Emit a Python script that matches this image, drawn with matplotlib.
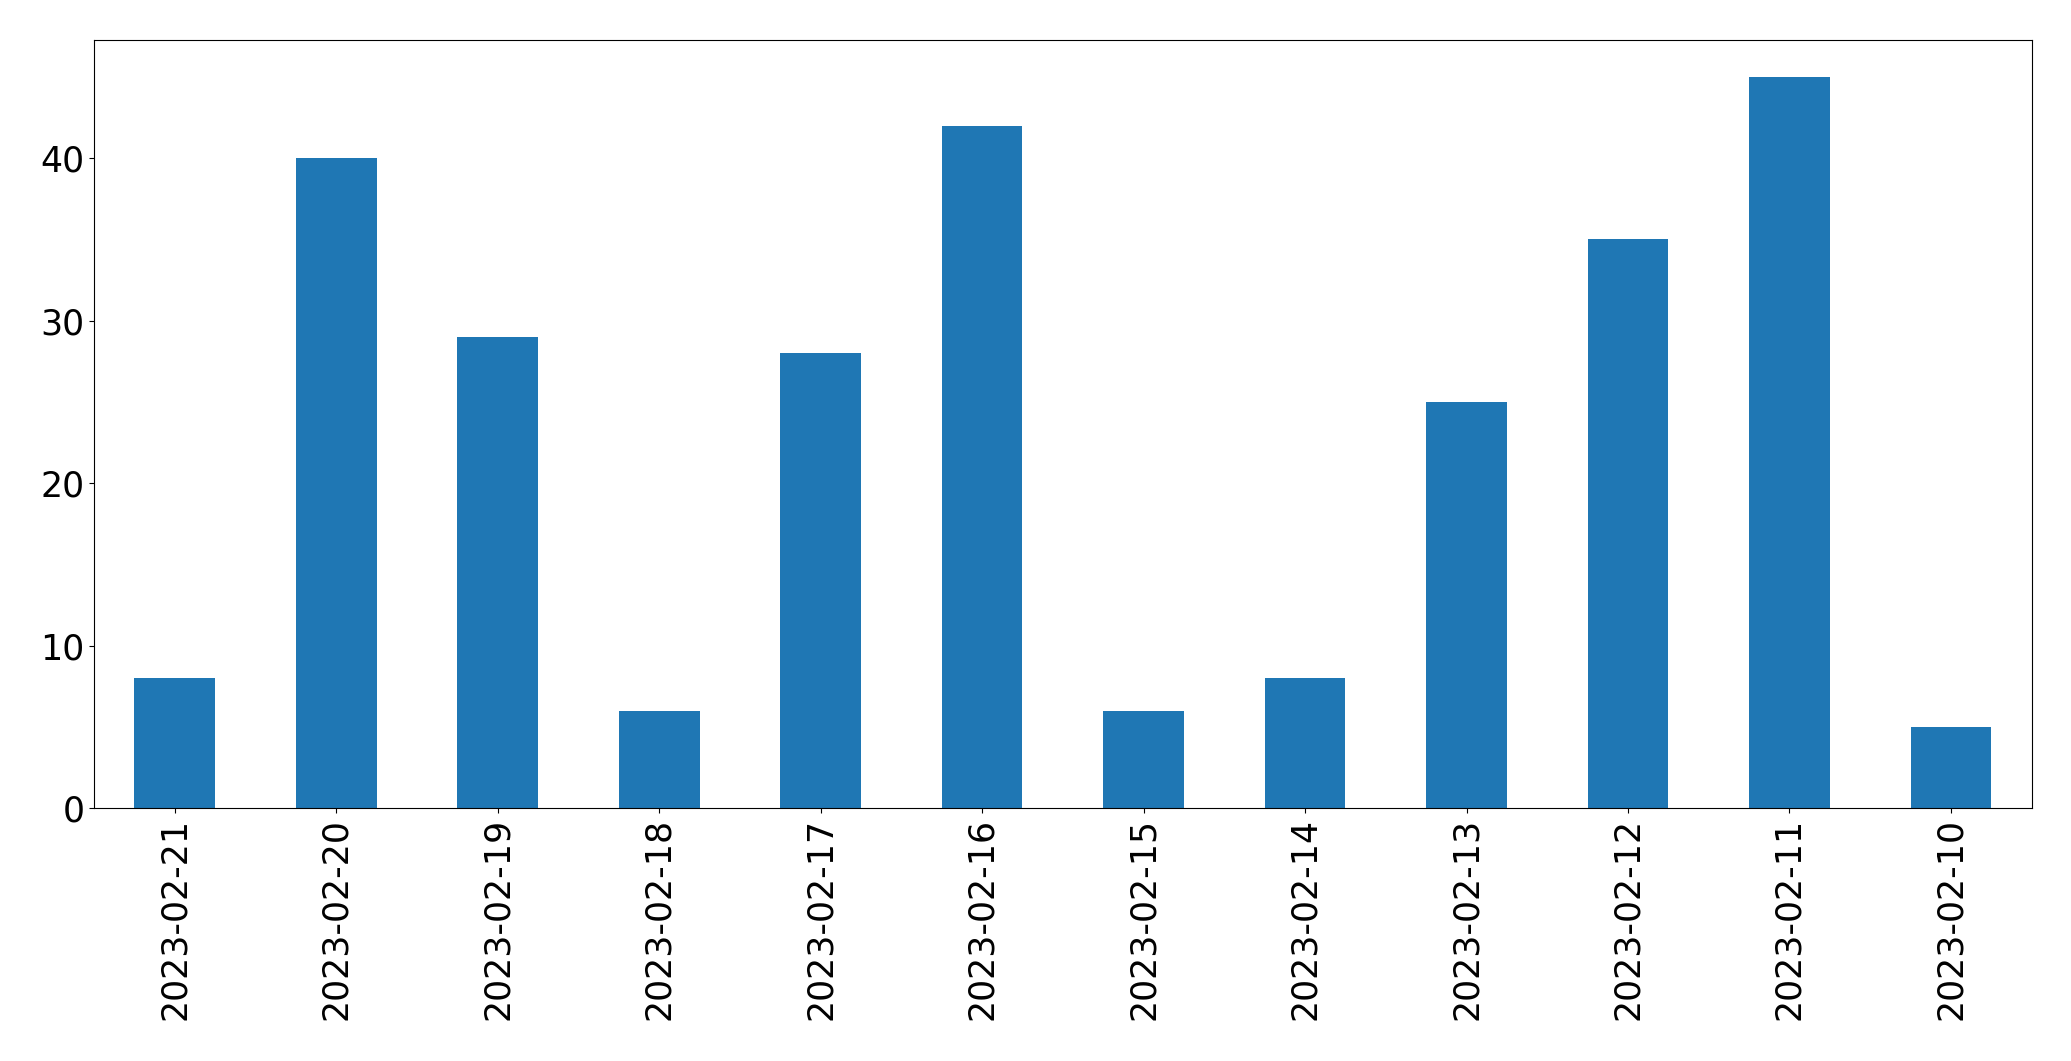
import pandas as pd
import matplotlib
matplotlib.use("Agg")
import matplotlib.pyplot as plt

dates = ["2023-02-21", "2023-02-20", "2023-02-19", "2023-02-18",
         "2023-02-17", "2023-02-16", "2023-02-15", "2023-02-14",
         "2023-02-13", "2023-02-12", "2023-02-11", "2023-02-10"]
counts = [8, 40, 29, 6, 28, 42, 6, 8, 25, 35, 45, 5]

series = pd.Series(counts, index=dates)

fig, ax = plt.subplots(figsize=(20.71, 10.61), dpi=100)
series.plot(kind="bar", ax=ax, color="#1f77b4", fontsize=25)
fig.subplots_adjust(left=0.0454, right=0.981, top=0.962, bottom=0.238)

fig.savefig("out.png", dpi=100)
